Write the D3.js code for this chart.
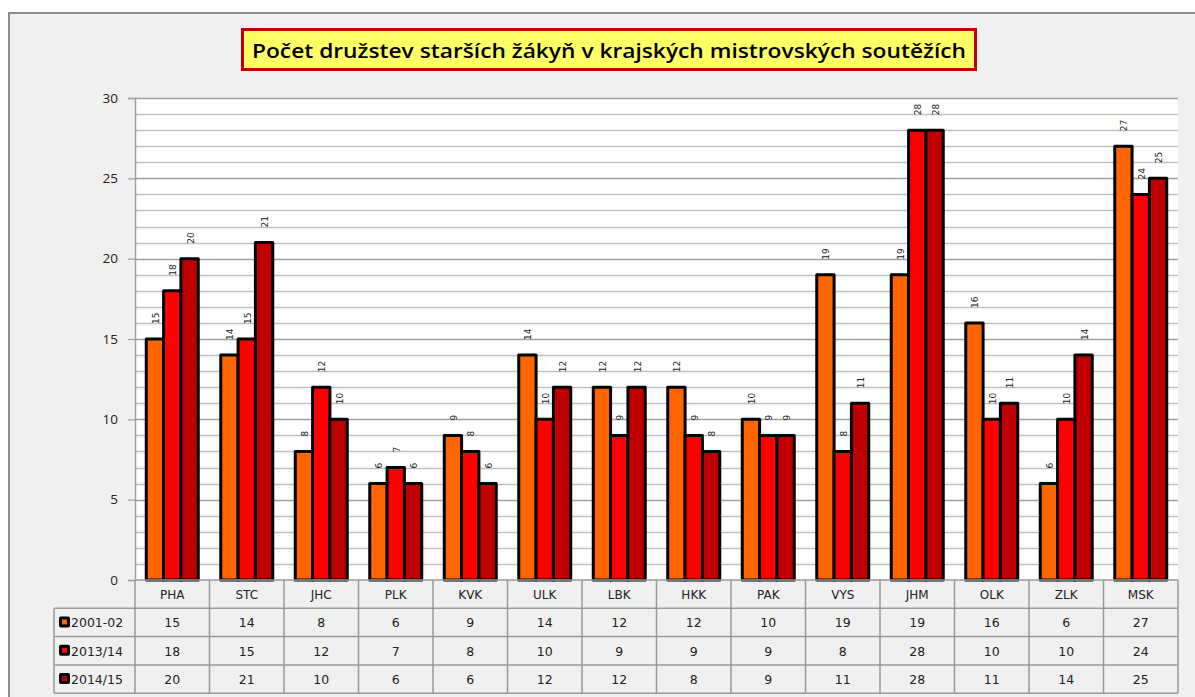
<!DOCTYPE html>
<html><head><meta charset="utf-8">
<script src="https://cdn.jsdelivr.net/npm/d3@7"></script>
<style>
html,body{margin:0;padding:0;background:#fff;}
svg{display:block;}
</style></head>
<body>
<svg id="chart" width="1195" height="697"></svg>
<script>
const categories = ["PHA","STC","JHC","PLK","KVK","ULK","LBK","HKK","PAK","VYS","JHM","OLK","ZLK","MSK"];
const seriesNames = ["2001-02","2013/14","2014/15"];
const s2001 = [15,14,8,6,9,14,12,12,10,19,19,16,6,27];
const s2013 = [18,15,12,7,8,10,9,9,9,8,28,10,10,24];
const s2014 = [20,21,10,6,6,12,12,8,9,11,28,11,14,25];
const seriesValues = [s2001, s2013, s2014];
const colors = ["#ff6600","#ff0000","#c00000"];
const yTicks = [0,5,10,15,20,25,30];
const title = "Počet družstev starších žákyň v krajských mistrovských soutěžích";

const svg = d3.select("#chart");
svg.append("rect").attr("x",0).attr("y",0).attr("width",1195).attr("height",697).attr("fill","#ffffff");
svg.append("rect").attr("x",9).attr("y",13).attr("width",1200).attr("height",700)
  .attr("fill","#f0f0f0").attr("stroke","#8c8c8c").attr("stroke-width",2);

const L = 135, R = 1178, T = 98, B = 580;
const x0 = d3.scaleBand().domain(categories).range([L,R]).padding(0);
const x1 = d3.scaleBand().domain(d3.range(3)).range([0,x0.bandwidth()]).paddingInner(0).paddingOuter(0.65);
const y = d3.scaleLinear().domain([0,30]).range([B,T]);

svg.append("rect").attr("x",L).attr("y",T).attr("width",R-L).attr("height",B-T).attr("fill","#ffffff");
const g = svg.append("g");
g.selectAll("line.minor").data(d3.range(1,31)).join("line")
  .attr("x1",L).attr("x2",R)
  .attr("y1",d=>Math.round(y(d))+0.5).attr("y2",d=>Math.round(y(d))+0.5)
  .attr("stroke",d=>d%5===0?"#a0a0a0":"#c0c0c0").attr("stroke-width",d=>d%5===0?1.5:1.3);

const yAxis = d3.axisLeft(y).tickValues(yTicks).tickSize(7).tickPadding(10);
const ya = svg.append("g").attr("transform",`translate(${L},0)`).call(yAxis);
ya.select(".domain").attr("stroke","#a0a0a0").attr("stroke-width",1.5);
ya.selectAll(".tick line").attr("stroke","#a0a0a0").attr("stroke-width",1.2);
ya.selectAll(".tick text").attr("font-family","'Open Sans', 'Liberation Sans', sans-serif").attr("font-size",13.5).attr("fill","#222");

const cats = svg.append("g").selectAll("g").data(categories).join("g")
  .attr("transform",d=>`translate(${x0(d)},0)`);
cats.selectAll("rect").data((c,i)=>seriesValues.map((s,k)=>({k, v:s[i]}))).join("rect")
  .attr("x",d=>x1(d.k)).attr("width",x1.bandwidth())
  .attr("y",d=>y(d.v)).attr("height",d=>y(0)-y(d.v))
  .attr("fill",d=>colors[d.k]).attr("stroke","#000").attr("stroke-width",3).attr("stroke-linejoin","round");
cats.selectAll("text").data((c,i)=>seriesValues.map((s,k)=>({k, v:s[i]}))).join("text")
  .attr("transform",d=>`translate(${x1(d.k)+x1.bandwidth()/2+4},${y(d.v)-15}) rotate(-90)`)
  .attr("font-family","'DejaVu Sans', sans-serif").attr("font-size",9).attr("fill","#222")
  .text(d=>d.v);

const rowH = 28.3;
const tbl = svg.append("g");
const lineCol = "#9a9a9a";
const bounds = categories.map(c=>x0(c)).concat([R]);
tbl.selectAll("line.v").data(bounds).join("line")
  .attr("x1",d=>d).attr("x2",d=>d).attr("y1",B).attr("y2",B+rowH*4)
  .attr("stroke",lineCol).attr("stroke-width",1.5);
tbl.append("line").attr("x1",54).attr("x2",54).attr("y1",B+rowH).attr("y2",B+rowH*4).attr("stroke",lineCol).attr("stroke-width",1.5);
tbl.selectAll("line.h").data([1,2,3,4]).join("line")
  .attr("x1",54).attr("x2",R).attr("y1",d=>B+rowH*d).attr("y2",d=>B+rowH*d)
  .attr("stroke",lineCol).attr("stroke-width",1.5);
tbl.append("line").attr("x1",L).attr("x2",R).attr("y1",B).attr("y2",B).attr("stroke",lineCol).attr("stroke-width",1.5);
tbl.selectAll("text.cat").data(categories).join("text")
  .attr("x",d=>x0(d)+x0.bandwidth()/2).attr("y",B+rowH/2+4.5)
  .attr("text-anchor","middle").attr("font-family","'DejaVu Sans', sans-serif").attr("font-size",12).attr("fill","#222")
  .text(d=>d);
seriesValues.forEach((s,k)=>{
  const yy = B+rowH*(k+1)+rowH/2+5;
  tbl.append("g").selectAll("text").data(s).join("text")
    .attr("x",(d,i)=>x0(categories[i])+x0.bandwidth()/2).attr("y",yy)
    .attr("text-anchor","middle").attr("font-family","'DejaVu Sans', sans-serif").attr("font-size",12.5).attr("fill","#222")
    .text(d=>d);
  tbl.append("rect").attr("x",59).attr("y",yy-11).attr("width",11).attr("height",11).attr("rx",2)
    .attr("fill","#000");
  tbl.append("rect").attr("x",62).attr("y",yy-8).attr("width",5).attr("height",5)
    .attr("fill",colors[k]);
  tbl.append("text").attr("x",71).attr("y",yy).attr("font-family","'DejaVu Sans', sans-serif").attr("font-size",12.5).attr("fill","#222")
    .text(seriesNames[k]);
});

svg.append("rect").attr("x",242.5).attr("y",29.5).attr("width",733).attr("height",40)
  .attr("fill","#ffff66").attr("stroke","#c00000").attr("stroke-width",3);
svg.append("text").attr("x",609).attr("y",57.5).attr("text-anchor","middle")
  .attr("font-family","'Open Sans', sans-serif").attr("font-weight",600).attr("font-size",20).attr("fill","#000")
  .attr("textLength",714).attr("lengthAdjust","spacingAndGlyphs")
  .text(title);
</script>
</body></html>
